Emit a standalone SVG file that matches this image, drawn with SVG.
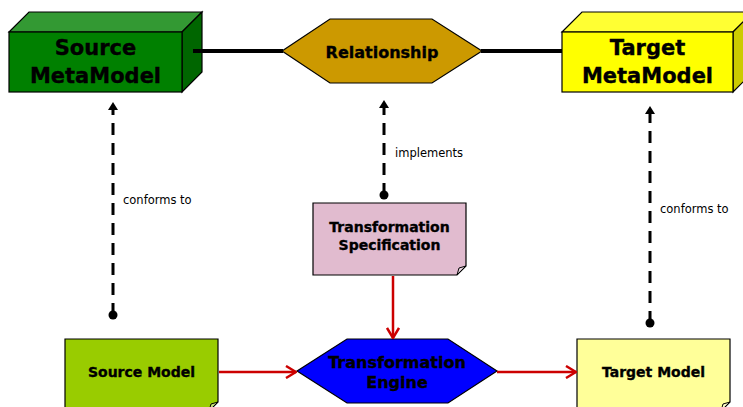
<svg xmlns="http://www.w3.org/2000/svg" width="743" height="407" viewBox="0 0 743 407">
  <style>
    .edge { stroke: #000; stroke-width: 1.2; stroke-linejoin: miter; }
    .title { font-family: "DejaVu Sans", Verdana, sans-serif; font-weight: bold; fill: #000; stroke: #000; stroke-width: 0.35; text-anchor: middle; }
    .lbl { font-family: "DejaVu Sans", Verdana, sans-serif; font-size: 11.5px; fill: #000; }
    .assoc { stroke: #000; stroke-width: 4; fill: none; }
    .dep { stroke: #000; stroke-width: 3; stroke-dasharray: 12 8; fill: none; marker-start: url(#dot); marker-end: url(#tri); }
    .flow { stroke: #CC0000; stroke-width: 2.5; fill: none; marker-end: url(#vee); }
    .fold { fill: #ffffff; fill-opacity: 0.45; stroke: #000; stroke-width: 1; }
  </style>
  <defs>
    <marker id="tri" viewBox="0 0 8 10" refX="0" refY="5" markerWidth="8" markerHeight="10" markerUnits="userSpaceOnUse" orient="auto">
      <path d="M0,0 L8,5 L0,10 Z" fill="#000"/>
    </marker>
    <marker id="dot" viewBox="0 0 10 10" refX="5" refY="5" markerWidth="10" markerHeight="10" markerUnits="userSpaceOnUse" orient="auto">
      <circle cx="5" cy="5" r="4.5" fill="#000"/>
    </marker>
    <marker id="vee" viewBox="0 0 12 14" refX="11" refY="7" markerWidth="12" markerHeight="14" markerUnits="userSpaceOnUse" orient="auto">
      <path d="M1,1 L11,7 L1,13" fill="none" stroke="#CC0000" stroke-width="2.5"/>
    </marker>
  </defs>

  <!-- Source MetaModel (3D box) -->
  <g id="source-metamodel">
    <polygon class="edge" fill="#339933" points="9,32 29,12 202,12 182,32"/>
    <polygon class="edge" fill="#006600" points="182,32 202,12 202,72 182,92"/>
    <rect class="edge" fill="#008000" x="9" y="32" width="173" height="60"/>
    <text class="title" font-size="21" x="95.5" y="55">Source</text>
    <text class="title" font-size="21" x="95.5" y="83">MetaModel</text>
  </g>

  <!-- Relationship -->
  <g id="relationship">
    <polygon class="edge" fill="#CC9900" points="282,51 330,19 432,19 482,51 432,83 330,83"/>
    <text class="title" font-size="16" x="382" y="58">Relationship</text>
  </g>

  <!-- Target MetaModel (3D box) -->
  <g id="target-metamodel">
    <polygon class="edge" fill="#FFFF33" points="562,32 582,12 753,12 733,32"/>
    <polygon class="edge" fill="#CCCC00" points="733,32 753,12 753,72 733,92"/>
    <rect class="edge" fill="#FFFF00" x="562" y="32" width="171" height="60"/>
    <text class="title" font-size="21" x="647.5" y="55">Target</text>
    <text class="title" font-size="21" x="647.5" y="83">MetaModel</text>
  </g>

  <!-- Transformation Specification (note) -->
  <g id="transformation-specification">
    <path class="edge" fill="#E1BBCF" d="M313,203 H466 V266 L457,275 H313 Z"/>
    <path class="fold" d="M466,266 L457,275 L459,268 Z"/>
    <text class="title" font-size="14" x="389.5" y="232">Transformation</text>
    <text class="title" font-size="14" x="389.5" y="250">Specification</text>
  </g>

  <!-- Source Model (note) -->
  <g id="source-model">
    <path class="edge" fill="#99CC00" d="M65,339 H218 V402 L209,411 H65 Z"/>
    <path class="fold" d="M218,402 L209,411 L211,404 Z"/>
    <text class="title" font-size="14" x="141.5" y="377">Source Model</text>
  </g>

  <!-- Transformation Engine -->
  <g id="transformation-engine">
    <polygon class="edge" fill="#0000FF" points="297,371 347,339 448,339 497,371 448,403 347,403"/>
    <text class="title" font-size="16" x="397" y="368">Transformation</text>
    <text class="title" font-size="16" x="397" y="388">Engine</text>
  </g>

  <!-- Target Model (note) -->
  <g id="target-model">
    <path class="edge" fill="#FFFF99" d="M577,339 H730 V402 L721,411 H577 Z"/>
    <path class="fold" d="M730,402 L721,411 L723,404 Z"/>
    <text class="title" font-size="14" x="653.5" y="377">Target Model</text>
  </g>

  <!-- connectors, drawn over the nodes -->
  <g id="connectors">
    <line class="assoc" x1="193" y1="51" x2="283" y2="51"/>
    <line class="assoc" x1="481" y1="51" x2="562" y2="51"/>
    <line class="dep" x1="113" y1="315" x2="113" y2="110"/>
    <line class="dep" x1="384" y1="195" x2="384" y2="108"/>
    <line class="dep" x1="650" y1="323" x2="650" y2="114"/>
    <line class="flow" x1="393" y1="276" x2="393" y2="338"/>
    <line class="flow" x1="219" y1="372" x2="296" y2="372"/>
    <line class="flow" x1="497" y1="372" x2="576" y2="372"/>
    <text class="lbl" x="123" y="204">conforms to</text>
    <text class="lbl" x="395" y="157">implements</text>
    <text class="lbl" x="660" y="213">conforms to</text>
  </g>
</svg>
